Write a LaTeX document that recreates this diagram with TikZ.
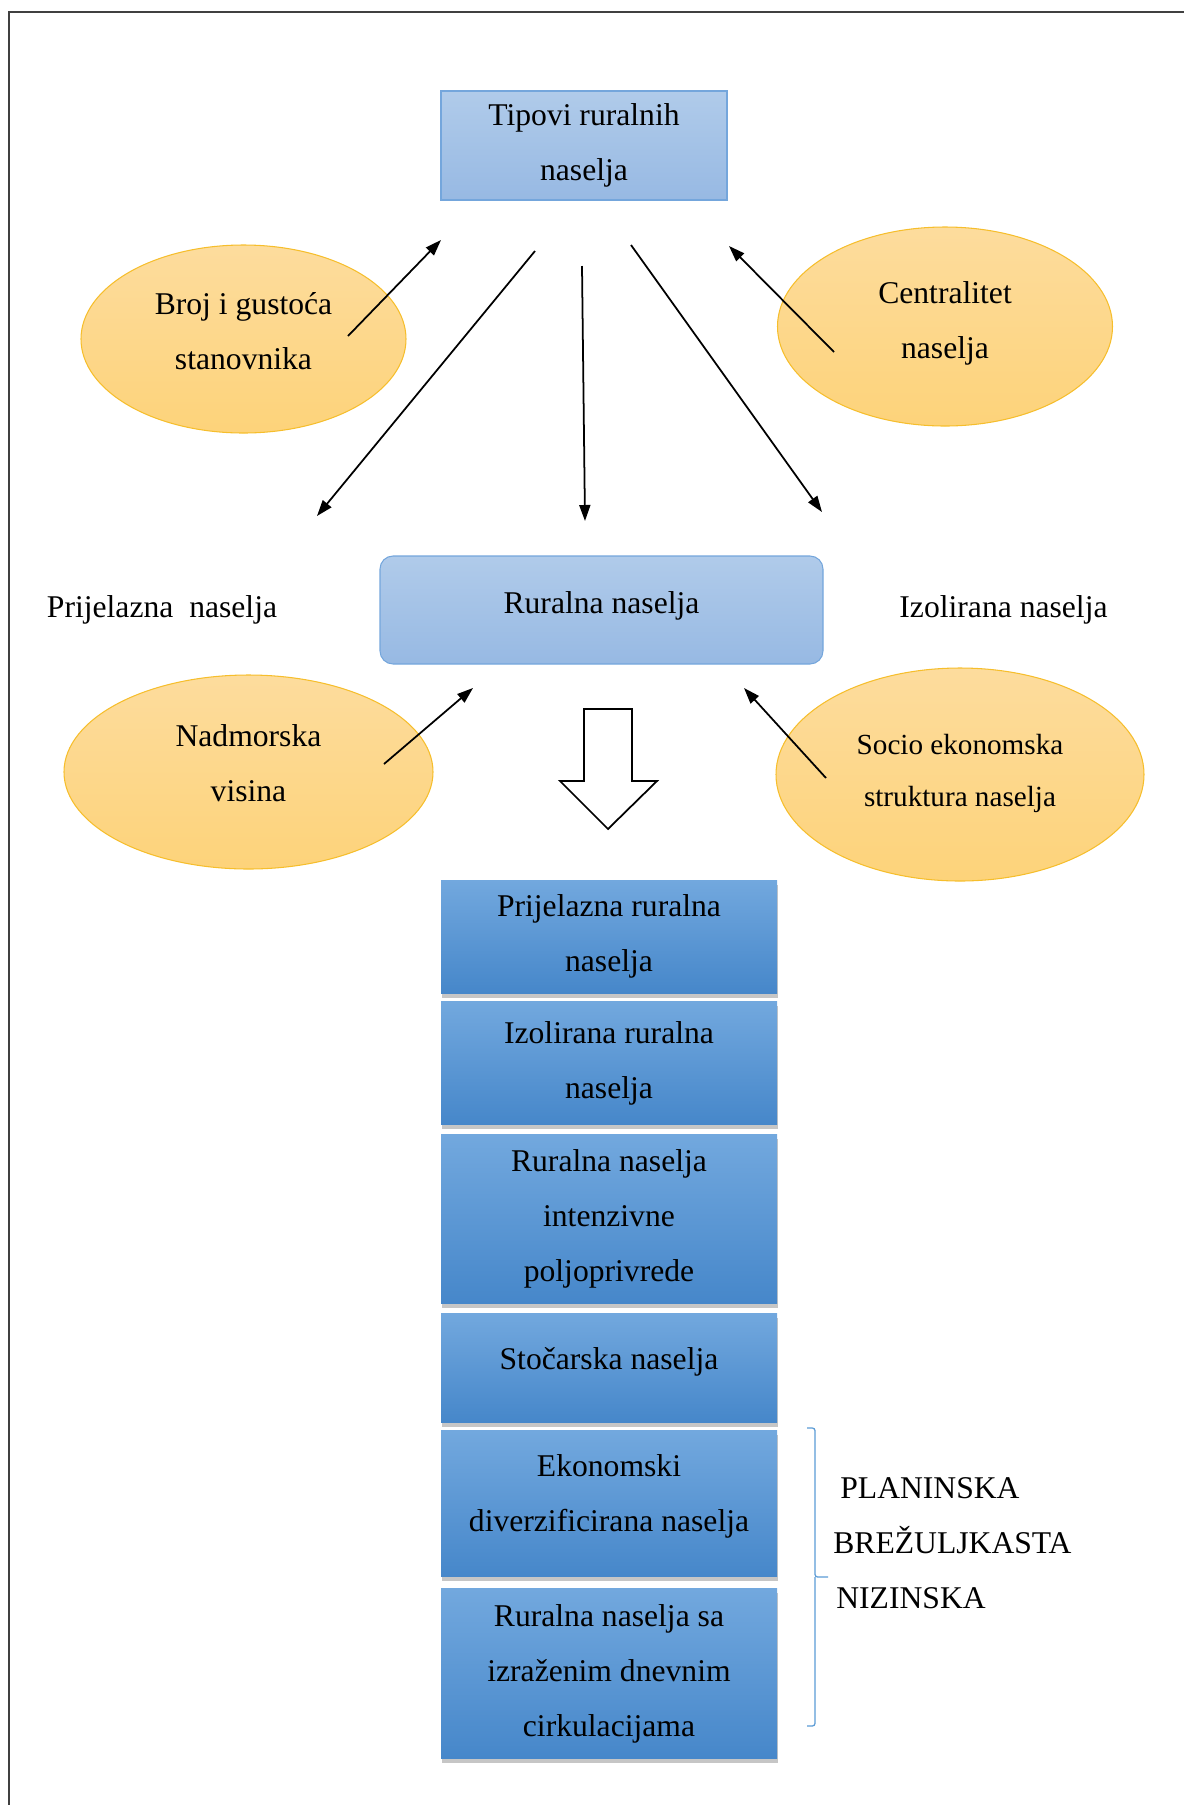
\documentclass[tikz,border=0pt]{standalone}
\usepackage{fontspec}
\setmainfont{Liberation Serif}
\usetikzlibrary{shapes.geometric, arrows.meta, positioning, shadows}

\definecolor{boxtop}{HTML}{B0CBEA}
\definecolor{boxbot}{HTML}{97B9E3}
\definecolor{boxline}{HTML}{74A6DC}
\definecolor{ovaltop}{HTML}{FDDC9D}
\definecolor{ovalbot}{HTML}{FDD37A}
\definecolor{ovalline}{HTML}{F6BE2C}
\definecolor{typetop}{HTML}{72A8DE}
\definecolor{typemid}{HTML}{559ADB}
\definecolor{typebot}{HTML}{4687CA}
\definecolor{braceblue}{HTML}{5B9BD5}

\newcommand{\diagfont}{\fontsize{18}{31.3}\selectfont}
\newcommand{\socfont}{\fontsize{16.6}{29.5}\selectfont}

\tikzset{
  headbox/.style={rectangle, draw=boxline, top color=boxtop, bottom color=boxbot,
                  line width=0.6pt, align=center, font=\diagfont},
  factor/.style={ellipse, draw=ovalline, top color=ovaltop, bottom color=ovalbot,
                 line width=0.6pt, align=center, font=\diagfont, inner sep=0pt},
  typebox/.style={rectangle, top color=typetop, middle color=typemid, bottom color=typebot,
                  minimum width=6.72cm, align=center, font=\diagfont,
                  drop shadow={shadow xshift=0.02cm, shadow yshift=-0.09cm, opacity=0.45}},
  arrow/.style={-{Triangle[length=0.32cm, width=0.22cm]}, draw=black, line width=1pt},
  plain/.style={font=\diagfont, inner sep=0pt},
}

\begin{document}
\begin{tikzpicture}[
  frame/.style={draw=black!75, line width=0.8pt},
  bracket/.style={draw=braceblue, line width=0.7pt, rounded corners=1.5pt},
  hollow/.style={draw=black, fill=white, line width=1pt, line join=miter}
]
  \useasboundingbox (0,0) rectangle (23.68,-36.10);
  \draw[frame] (0.18,-36.10) -- (0.18,-0.24) -- (23.68,-0.24);

  % upper part
  \node[headbox, minimum width=5.72cm, minimum height=2.18cm] (tip) at (11.68,-2.91)
    {Tipovi ruralnih\\naselja};
  \node[factor, minimum width=6.5cm, minimum height=3.76cm] (broj) at (4.87,-6.78)
    {Broj i gustoća\\stanovnika\\[-0.78cm]};
  \node[factor, minimum width=6.7cm, minimum height=3.98cm] (cent) at (18.90,-6.53)
    {Centralitet\\naselja\\[-0.86cm]};

  \node[headbox, rounded corners=0.26cm, minimum width=8.86cm, minimum height=2.16cm]
    (rur) at (12.03,-12.20) {Ruralna naselja\\[-0.82cm]};
  \node[plain] (prij) at (3.24,-12.19) {Prijelazna\ \ naselja};
  \node[plain] (izol) at (20.07,-12.19) {Izolirana naselja};

  \node[factor, minimum width=7.38cm, minimum height=3.88cm] (nadm) at (4.97,-15.44)
    {Nadmorska\\visina\\[-0.74cm]};
  \node[factor, font=\socfont, minimum width=7.36cm, minimum height=4.26cm] (socio)
    at (19.20,-15.49) {Socio ekonomska\\struktura naselja\\[-0.86cm]};

  \coordinate (brojT) at (6.96,-6.72);   \coordinate (brojH) at (8.82,-4.80);
  \coordinate (centT) at (16.68,-7.04);  \coordinate (centH) at (14.58,-4.92);
  \coordinate (leftT) at (10.70,-5.02);  \coordinate (leftH) at (6.34,-10.32);
  \coordinate (midT) at (11.64,-5.32);   \coordinate (midH) at (11.70,-10.42);
  \coordinate (rightT) at (12.62,-4.90); \coordinate (rightH) at (16.44,-10.24);
  \coordinate (nadmT) at (7.68,-15.28);  \coordinate (nadmH) at (9.46,-13.76);
  \coordinate (socT) at (16.52,-15.56);  \coordinate (socH) at (14.88,-13.76);

  \draw[arrow] (brojT) -- (brojH);
  \draw[arrow] (centT) -- (centH);
  \draw[arrow] (leftT) -- (leftH);
  \draw[arrow] (midT) -- (midH);
  \draw[arrow] (rightT) -- (rightH);
  \draw[arrow] (nadmT) -- (nadmH);
  \draw[arrow] (socT) -- (socH);

  % hollow block arrow
  \draw[hollow] (11.68,-14.18) -- (12.64,-14.18) -- (12.64,-15.62) -- (13.14,-15.62)
    -- (12.16,-16.58) -- (11.20,-15.62) -- (11.68,-15.62) -- cycle;

  % types of settlements
  \node[typebox, minimum height=2.26cm] (t1) at (12.18,-18.73) {Prijelazna ruralna\\naselja};
  \node[typebox, minimum height=2.46cm, below=0.16cm of t1] (t2) {Izolirana ruralna\\naselja};
  \node[typebox, minimum height=3.38cm, below=0.18cm of t2] (t3)
    {Ruralna naselja\\intenzivne\\poljoprivrede};
  \node[typebox, minimum height=2.18cm, below=0.18cm of t3] (t4) {Stočarska naselja\\[-0.74cm]};
  \node[typebox, minimum height=2.92cm, below=0.16cm of t4] (t5)
    {Ekonomski\\diverzificirana naselja\\[-0.66cm]};
  \node[typebox, minimum height=3.40cm, below=0.22cm of t5] (t6)
    {Ruralna naselja sa\\izraženim dnevnim\\cirkulacijama};

  \coordinate (brTop) at (16.14,-28.56);
  \coordinate (brMid) at (16.56,-31.54);
  \coordinate (brBot) at (16.14,-34.52);
  \draw[bracket] (brTop) -| (16.30,-31.54) -- (brMid);
  \draw[bracket] (16.30,-31.54) |- (brBot);
  \node[plain, align=left, anchor=west] (relief) at (16.66,-30.86)
    {\hspace{0.14cm}PLANINSKA\\BREŽULJKASTA\\\hspace{0.06cm}NIZINSKA};
\end{tikzpicture}
\end{document}
